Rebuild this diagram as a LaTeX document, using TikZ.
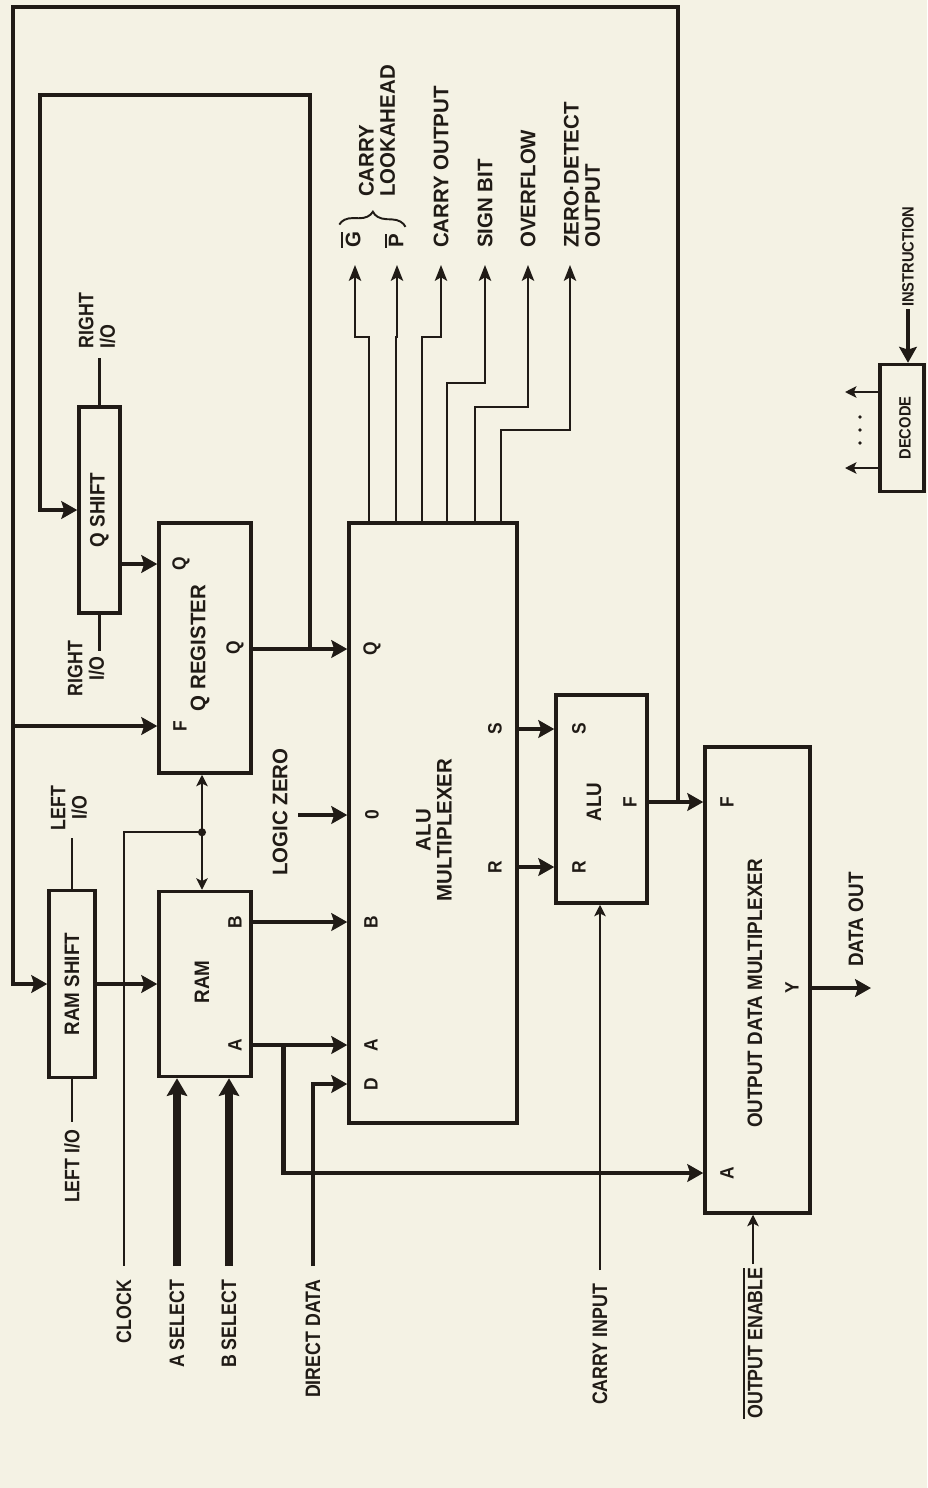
\documentclass[tikz,border=0pt]{standalone}
\usepackage{fontspec}
\setmainfont{Liberation Sans}[FakeStretch=0.9]
\newfontfamily\narrowfont{Liberation Sans}[FakeStretch=0.85]
\newfontfamily\widefont{Liberation Sans}[FakeStretch=0.97]
\usepackage{tikz}
\usetikzlibrary{arrows.meta,calc,decorations.pathreplacing}
\usepackage{xcolor}
\definecolor{paper}{RGB}{244,242,228}
\definecolor{ink}{RGB}{32,27,22}
\newcommand{\ovl}[1]{\vbox{\hrule height 1.1pt\kern1.3pt\hbox{#1}}}
\tikzset{
  blk/.style={draw=ink, line width=2pt, inner sep=0pt},
  bus/.style={draw=ink, line width=2.8pt},
  wire/.style={draw=ink, line width=1.2pt},
  fat/.style={draw=ink, line width=4.3pt},
  busarr/.style={-{Stealth[length=9pt,width=10pt,inset=1.5pt]}},
  fatarr/.style={-{Stealth[length=10pt,width=11.5pt,inset=1.5pt]}},
  toparr/.style={-{Stealth[length=9pt,width=7pt,inset=2pt]}},
  lbl/.style={rotate=90, text=ink, inner sep=1pt, font=\bfseries\fontsize{11.9}{12}\selectfont},
  pin/.style={rotate=90, text=ink, inner sep=0pt, font=\bfseries\fontsize{11}{12}\selectfont},
  sig/.style={lbl, outer sep=7pt, font=\narrowfont\bfseries\fontsize{11.9}{12.2}\selectfont},
  outl/.style={lbl, font=\widefont\bfseries\fontsize{12}{12}\selectfont},
  small/.style={lbl, font=\bfseries\fontsize{9.3}{10}\selectfont}
}
\begin{document}
\begin{tikzpicture}[x=0.02cm, y=-0.02cm, >={Stealth[length=6.5pt,width=6.5pt,inset=1.5pt]}, line join=miter]
\useasboundingbox (0,0) rectangle (927,1488);
\fill[paper] (0,0) rectangle (927,1488);

% blocks
\node[blk, minimum width=0.82cm, minimum height=4.12cm] (qshift) at (99.5,510) {};
\node[blk, minimum width=1.84cm, minimum height=5cm] (qreg) at (205,648) {};
\node[blk, minimum width=0.92cm, minimum height=3.74cm] (ramshift) at (72,984) {};
\node[blk, minimum width=1.84cm, minimum height=3.7cm] (ram) at (205,984) {};
\node[blk, minimum width=3.36cm, minimum height=12cm] (alumux) at (433,823) {};
\node[blk, minimum width=1.82cm, minimum height=4.16cm] (alu) at (601.5,799) {};
\node[blk, minimum width=2.1cm, minimum height=9.32cm] (outmux) at (757.5,980) {};
\node[blk, minimum width=0.88cm, minimum height=2.54cm] (decode) at (902,428) {};

\node[lbl] (qshifttxt) at (qshift) {Q SHIFT};
\node[outl] (qregtxt) at (200,648) {Q REGISTER};
\node[pin] (qregout) at (235,648) {Q};
\node[lbl] (ramshifttxt) at (ramshift) {RAM SHIFT};
\node[lbl] (ramtxt) at (202,982) {RAM};
\node[outl, align=center] (alumuxtxt) at (434,830) {ALU\\MULTIPLEXER};
\node[lbl] (alutxt) at (594,802) {ALU};
\node[pin] (aluF) at (630,802) {F};
\node[lbl, anchor=west] (outmuxtxt) at (755,1130) {OUTPUT DATA MULTIPLEXER};
\node[small] (decodetxt) at (905,428) {DECODE};

% pins
\node[pin] (qregQ) at (181,564) {Q};
\node[pin] (qregF) at (180,726) {F};
\node[pin] (ramB) at (235,922) {B};
\node[pin] (ramA) at (235,1045) {A};
\node[pin] (muxQ) at (372,649) {Q};
\node[pin] (muxO) at (372,815) {0};
\node[pin] (muxB) at (371,922) {B};
\node[pin] (muxA) at (371,1045) {A};
\node[pin] (muxD) at (371,1084) {D};
\node[pin] (muxS) at (495,729) {S};
\node[pin] (muxR) at (495,867) {R};
\node[pin] (aluS) at (579,729) {S};
\node[pin] (aluR) at (579,867) {R};
\node[pin] (outF) at (727,802) {F};
\node[pin] (outA) at (727,1173) {A};
\node[pin] (outY) at (792,988) {Y};

% signal names
\node[sig, align=center, anchor=west, outer sep=3.5pt] (lio1) at (69,838) {LEFT\\I/O};
\node[sig, anchor=east, outer sep=3.5pt] (lio2) at (72,1122) {LEFT I/O};
\node[sig, align=left, anchor=west, outer sep=4.5pt] (rio1) at (97,358) {RIGHT\\I/O};
\node[sig, align=center, anchor=east, outer sep=0pt] (rio2) at (86,639) {RIGHT\\I/O};
\node[sig, anchor=east] (clock) at (124,1266) {CLOCK};
\node[sig, anchor=east] (asel) at (177,1266) {A SELECT};
\node[sig, anchor=east] (bsel) at (229,1266) {B SELECT};
\node[sig, anchor=east] (ddata) at (313,1266) {DIRECT DATA};
\node[sig, anchor=east] (cin) at (600,1270) {CARRY INPUT};
\node[sig, anchor=east, outer sep=1pt] (oen) at (753,1264) {\ovl{OUTPUT ENABLE}};
\node[outl, anchor=south, outer sep=5pt] (lzero) at (298,812) {LOGIC ZERO};
\node[lbl, anchor=west] (dout) at (856,969) {DATA OUT};
\node[small, anchor=west] (instr) at (908,309) {INSTRUCTION};

\coordinate (oG) at (355,265); \coordinate (oP) at (397,265);
\coordinate (oC) at (441,265); \coordinate (oS) at (485,265);
\coordinate (oV) at (528,265); \coordinate (oZ) at (570,265);
\node[outl, anchor=west] (lG) at (351,250) {\ovl{G}};
\node[outl, anchor=west] (lP) at (394,250) {\ovl{P}};
\node[outl, align=left, anchor=west] (lLook) at (377,199) {CARRY\\LOOKAHEAD};
\node[outl, anchor=west] (lCout) at (441,250) {CARRY OUTPUT};
\node[outl, anchor=west] (lSign) at (485,250) {SIGN BIT};
\node[outl, anchor=west] (lOver) at (528,250) {OVERFLOW};
\node[outl, align=left, anchor=west] (lZero) at (582,250) {ZERO·DETECT\\OUTPUT};
\draw[ink, line width=1.1pt, decorate, decoration={brace, amplitude=8pt}]
  ([yshift=3pt]lG.north east) -- ([yshift=3pt]lP.south east);

\coordinate (fTR) at (678,7); \coordinate (fTL) at (13,7);
\coordinate (qTR) at (310,95); \coordinate (qTL) at (40,95);
\coordinate (rioEnd) at (99.5,651);
\coordinate (doutEnd) at (871,988);
\coordinate (dOut1) at (845,392); \coordinate (dOut2) at (845,468);

% feedback from the ALU
\draw[bus, busarr] (alu.east |- outF) -- (outmux.west |- outF);
\draw[bus, busarr] (fTR |- outF) -- (fTR) -- (fTL) |- (ramshift.west);
\draw[bus, busarr] (fTL |- qregF) -- (qreg.west |- qregF);

\draw[bus, busarr] (qreg.east |- muxQ) -- (alumux.west |- muxQ);
\draw[bus, busarr] (qTR |- muxQ) -- (qTR) -- (qTL) |- (qshift.west);
\draw[bus, busarr] (qshift.east |- qregQ) -- (qreg.west |- qregQ);

\draw[bus, busarr] (ramshift.east) -- (ram.west);
\draw[bus, busarr] (ram.east |- ramB) -- (alumux.west |- ramB);
\draw[bus, busarr] (ram.east |- ramA) -- (alumux.west |- ramA);
\draw[bus, busarr] ($(ram.east |- ramA)!0.33!(alumux.west |- ramA)$) |- (outmux.west |- outA);
\draw[bus, busarr] (ddata.east) |- (alumux.west |- muxD);
\draw[bus, busarr] (lzero.south |- muxO) -- (alumux.west |- muxO);
\draw[bus, busarr] (alumux.east |- aluS) -- (alu.west |- aluS);
\draw[bus, busarr] (alumux.east |- aluR) -- (alu.west |- aluR);
\draw[bus, busarr] (outmux.east |- outY) -- (doutEnd);

\draw[wire, <->] (qreg.south -| ramtxt) -- (ram.north -| ramtxt);
\coordinate (clkj) at ($(qreg.south -| ramtxt)!0.5!(ram.north -| ramtxt)$);
\fill[ink] (clkj) circle[radius=2.3pt];
\draw[wire] (clkj) -| (clock.east);
\draw[fat, fatarr] (asel.east) -- (ram.south -| asel.east);
\draw[fat, fatarr] (bsel.east) -- (ram.south -| bsel.east);
\draw[wire, ->] (cin.east) -- (alu.south -| cin.east);
\draw[wire, ->] (oen.east) -- (outmux.south -| oen.east);

\draw[wire] (ramshift.north) -- (ramshift.north |- lio1.west);
\draw[wire] (ramshift.south) -- (ramshift.south |- lio2.east);
\draw[wire] (qshift.north) -- (qshift.north |- rio1.west);
\draw[wire] (qshift.south) -- (rioEnd);

\foreach \f/\t/\j in {0.125/oG/337, 0.286/oP/337, 0.435/oC/337, 0.583/oS/383, 0.744/oV/407, 0.899/oZ/430}
  \draw[wire, toparr] ($(alumux.north west)!\f!(alumux.north east)$) |- (\t |- 0,\j) -- (\t);

% decoder
\draw[bus, busarr] (instr.west) -- (decode.north -| instr.west);
\draw[wire, ->] (decode.west |- dOut1) -- (dOut1);
\draw[wire, ->] (decode.west |- dOut2) -- (dOut2);
\foreach \d in {417,430,443}
  \fill[ink] (860,\d) circle[radius=1.1pt];
\end{tikzpicture}
\end{document}
